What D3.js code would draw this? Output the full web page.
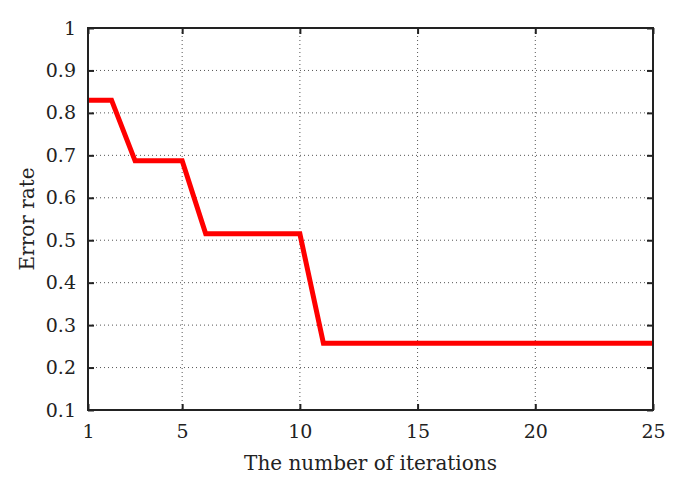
<!DOCTYPE html>
<html>
<head>
<meta charset="utf-8">
<script src="https://cdn.jsdelivr.net/npm/d3@7"></script>
<style>
  body { margin: 0; background: #fff; }
  text { font-family: "DejaVu Serif", "Liberation Serif", serif; fill: #222; }
</style>
</head>
<body>
<div id="vis"></div>
<script>
// data
const iterations = d3.range(1, 26);
const errorRate = [0.83, 0.83, 0.687, 0.687, 0.687, 0.515, 0.515, 0.515, 0.515, 0.515,
                   0.257, 0.257, 0.257, 0.257, 0.257, 0.257, 0.257, 0.257, 0.257, 0.257,
                   0.257, 0.257, 0.257, 0.257, 0.257];
const xTicks = [1, 5, 10, 15, 20, 25];
const yTicks = [0.1, 0.2, 0.3, 0.4, 0.5, 0.6, 0.7, 0.8, 0.9, 1];

const w = 678, h = 483;
const plotLeft = 88, plotRight = 653, plotTop = 28, plotBottom = 410;

const svg = d3.select("#vis").append("svg")
    .attr("width", w).attr("height", h);

const xScale = d3.scaleLinear().domain([1, 25]).range([plotLeft, plotRight]);
const yScale = d3.scaleLinear().domain([0.1, 1]).range([plotBottom, plotTop]);

/* GRID */
svg.append("g")
    .selectAll("line")
    .data(xTicks.slice(1, -1))
    .join("line")
    .attr("x1", d => xScale(d)).attr("x2", d => xScale(d))
    .attr("y1", plotTop).attr("y2", plotBottom)
    .attr("stroke", "#555").attr("stroke-width", 1)
    .attr("stroke-dasharray", "1,3");

svg.append("g")
    .selectAll("line")
    .data(yTicks.slice(1, -1))
    .join("line")
    .attr("x1", plotLeft).attr("x2", plotRight)
    .attr("y1", d => yScale(d)).attr("y2", d => yScale(d))
    .attr("stroke", "#555").attr("stroke-width", 1)
    .attr("stroke-dasharray", "1,3");

/* LINE */
const line = d3.line()
    .x((d, i) => xScale(iterations[i]))
    .y(d => yScale(d));

svg.append("path")
    .datum(errorRate)
    .attr("fill", "none")
    .attr("stroke", "#ff0000")
    .attr("stroke-width", 5)
    .attr("stroke-linejoin", "miter")
    .attr("d", line);

/* AXES (ticks inward, mirrored) */
function styleAxis(g) {
    g.select(".domain").remove();
    g.selectAll(".tick line").attr("stroke", "#222").attr("stroke-width", 2);
    g.selectAll(".tick text").style("font-size", "19px").attr("fill", "#222");
}

svg.append("g")
    .attr("transform", "translate(0," + plotBottom + ")")
    .call(d3.axisBottom(xScale).tickValues(xTicks).tickSizeInner(-6).tickSizeOuter(0).tickPadding(15).tickFormat(d3.format("d")))
    .call(styleAxis);

svg.append("g")
    .attr("transform", "translate(0," + plotTop + ")")
    .call(d3.axisTop(xScale).tickValues(xTicks).tickSizeInner(-6).tickSizeOuter(0).tickFormat(""))
    .call(styleAxis);

svg.append("g")
    .attr("transform", "translate(" + plotLeft + ",0)")
    .call(d3.axisLeft(yScale).tickValues(yTicks).tickSizeInner(-6).tickSizeOuter(0).tickPadding(12).tickFormat(d => d === 1 ? "1" : d3.format(".1f")(d)))
    .call(styleAxis);

svg.append("g")
    .attr("transform", "translate(" + plotRight + ",0)")
    .call(d3.axisRight(yScale).tickValues(yTicks).tickSizeInner(-6).tickSizeOuter(0).tickFormat(""))
    .call(styleAxis);

/* FRAME */
svg.append("rect")
    .attr("x", plotLeft).attr("y", plotTop)
    .attr("width", plotRight - plotLeft).attr("height", plotBottom - plotTop)
    .attr("fill", "none").attr("stroke", "#222").attr("stroke-width", 2);

/* LABELS */
svg.append("text")
    .attr("x", (plotLeft + plotRight) / 2).attr("y", 470)
    .attr("text-anchor", "middle")
    .style("font-size", "20px")
    .text("The number of iterations");

svg.append("text")
    .attr("transform", "translate(34," + ((plotTop + plotBottom) / 2) + ") rotate(-90)")
    .attr("text-anchor", "middle")
    .style("font-size", "20px")
    .text("Error rate");
</script>
</body>
</html>
